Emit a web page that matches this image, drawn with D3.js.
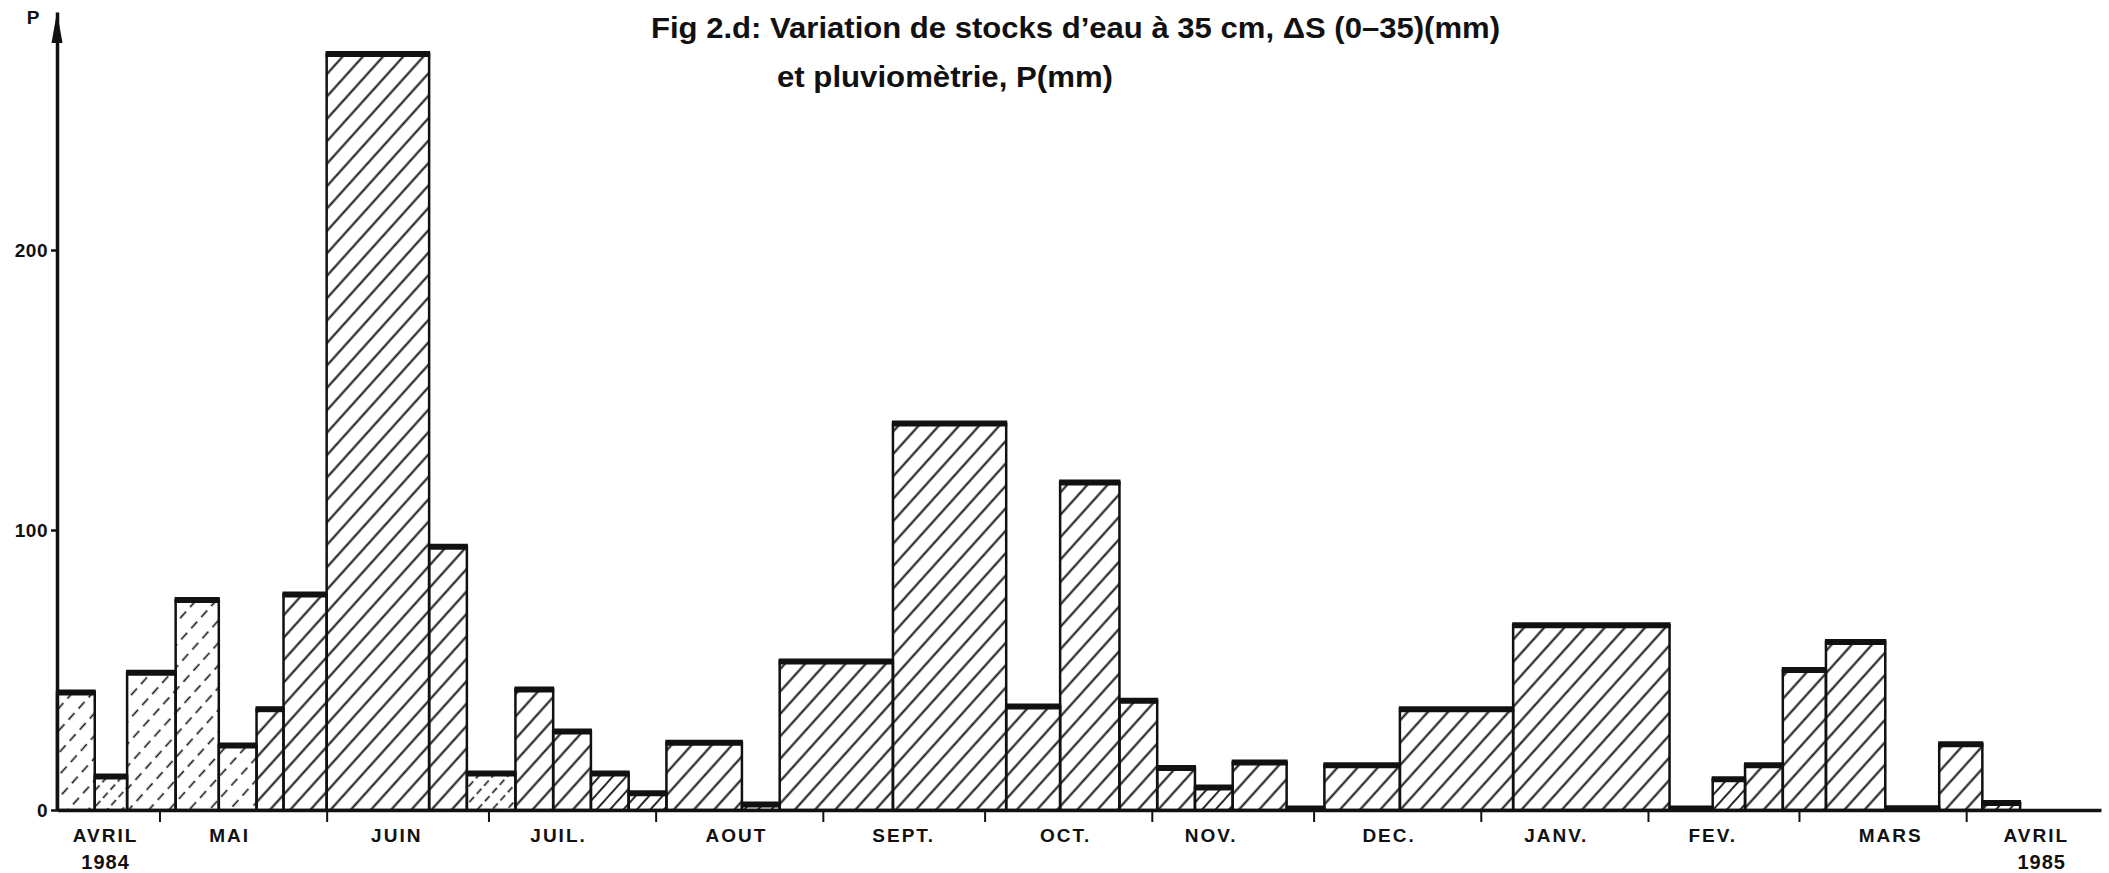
<!DOCTYPE html>
<html><head><meta charset="utf-8">
<script src="https://cdn.jsdelivr.net/npm/d3@7"></script>
<style>
html,body{margin:0;padding:0;background:#fff;}
svg{display:block;}
text{font-family:"Liberation Sans Narrow","Liberation Sans",Arial,sans-serif;font-weight:bold;fill:#111;}
</style></head><body>
<svg id="chart" width="2109" height="873"></svg>
<script>
// ---- data ----
// measurement dates (interval boundaries)
const measureDates = ["1984-04-12","1984-04-19","1984-04-25","1984-05-04","1984-05-12","1984-05-19","1984-05-24","1984-06-01","1984-06-20","1984-06-27","1984-07-06","1984-07-13","1984-07-20","1984-07-27","1984-08-03","1984-08-17","1984-08-24","1984-09-14","1984-10-05","1984-10-15","1984-10-26","1984-11-02","1984-11-09","1984-11-16","1984-11-26","1984-12-03","1984-12-17","1985-01-07","1985-02-05","1985-02-13","1985-02-19","1985-02-26","1985-03-06","1985-03-17","1985-03-27","1985-04-04","1985-04-11"];
// rainfall P (mm) over each interval
const rainfall = [42,12,49,75,23,36,77,270,94,13,43,28,13,6,24,2,53,138,37,117,39,15,8,17,0.5,16,36,66,0.5,11,16,50,60,0.6,23.5,2.5];
const axisStart = "1984-04-12", axisEnd = "1985-04-26";
const yTicks = [0,100,200];
const monthLabels = ["AVRIL","MAI","JUIN","JUIL.","AOUT","SEPT.","OCT.","NOV.","DEC.","JANV.","FEV.","MARS","AVRIL"];
const monthLabelDates = ["1984-04-21","1984-05-14","1984-06-14","1984-07-14","1984-08-16","1984-09-16","1984-10-16","1984-11-12","1984-12-15","1985-01-15","1985-02-13","1985-03-18","1985-04-14"];
const yearLabels = ["1984","1985"];
const yearLabelDates = ["1984-04-21","1985-04-15"];
const titleLine1 = "Fig  2.d: Variation de stocks  d\u2019eau à 35 cm, \u0394S (0\u201335)(mm)";
const titleLine2 = "et  pluviomètrie, P(mm)";
const yLabel = "P";

// ---- drawing ----
const parse = d3.utcParse("%Y-%m-%d");
const svg = d3.select("#chart");
const x = d3.scaleUtc().domain([parse(axisStart), parse(axisEnd)]).range([57, 2101]);
const y = d3.scaleLinear().domain([0, 285]).range([810, 12]);
const ink = "#111";

const defs = svg.append("defs");
function hatch(id, s, dash, w){
  const p = defs.append("pattern").attr("id", id).attr("patternUnits","userSpaceOnUse")
    .attr("width", s).attr("height", s).attr("patternTransform","rotate(42)");
  const l = p.append("line").attr("x1", s/2).attr("x2", s/2).attr("y1", -1).attr("y2", s+1)
    .attr("stroke", ink).attr("stroke-width", w);
  if (dash) l.attr("stroke-dasharray", dash);
}
hatch("h-wide", 15, null, 2);
hatch("h-fine", 10, null, 1.8);
hatch("h-dash", 15, "10 6", 1.6);
hatch("h-dash-fine", 11, "8 5", 1.6);
const dashedBars = new Set([0,1,2,3,4,9]);

const bars = rainfall.map((v,i)=>({x0:x(parse(measureDates[i])), x1:x(parse(measureDates[i+1])), v, i}));

const g = svg.append("g");
bars.forEach(b=>{
  const top = y(b.v), h = y(0)-top;
  const fine = h < 40;
  let pat = fine ? "h-fine" : "h-wide";
  if (dashedBars.has(b.i)) pat = fine ? "h-dash-fine" : "h-dash";
  g.append("rect").attr("x", b.x0).attr("y", top).attr("width", b.x1-b.x0).attr("height", h)
    .attr("fill", `url(#${pat})`).attr("stroke", ink).attr("stroke-width", 2.5);
  g.append("line").attr("x1", b.x0-1).attr("x2", b.x1+1).attr("y1", top).attr("y2", top)
    .attr("stroke", ink).attr("stroke-width", 6);
});

// x axis (baseline + month boundary ticks)
const monthStarts = d3.utcMonth.range(d3.utcMonth.ceil(parse(axisStart)), parse(axisEnd));
const xAxis = svg.append("g").attr("transform", `translate(0,${y(0)})`)
  .call(d3.axisBottom(x).tickValues(monthStarts).tickSize(12).tickSizeOuter(0).tickFormat(""));
xAxis.select(".domain").attr("stroke", ink).attr("stroke-width", 3.5);
xAxis.selectAll(".tick line").attr("stroke", ink).attr("stroke-width", 2);

// y axis
const yAxis = svg.append("g").attr("transform", `translate(57,0)`)
  .call(d3.axisLeft(y).tickValues(yTicks).tickSize(6).tickSizeOuter(0).tickPadding(3));
yAxis.select(".domain").attr("stroke", ink).attr("stroke-width", 3.5);
yAxis.selectAll(".tick line").attr("stroke", ink).attr("stroke-width", 2.5);
yAxis.selectAll(".tick text").attr("font-size", 19).attr("letter-spacing", 0.5)
  .attr("font-family", "'Liberation Sans',Arial,sans-serif").attr("font-weight","bold").attr("fill", ink);
// arrow head
svg.append("path").attr("d", `M57,${y(285)} L51.5,${y(285)+31} L62.5,${y(285)+31} Z`).attr("fill", ink);
svg.append("text").attr("x", 33).attr("y", 24).attr("text-anchor","middle")
  .attr("font-size", 19).attr("font-family","'Liberation Sans',Arial,sans-serif").text(yLabel);

// month labels
svg.append("g").selectAll("text").data(monthLabels).join("text")
  .attr("x", (d,i)=>x(parse(monthLabelDates[i]))).attr("y", 842).attr("text-anchor","middle")
  .attr("font-size", 19).attr("letter-spacing", 2)
  .attr("font-family","'Liberation Sans',Arial,sans-serif").text(d=>d);
svg.append("g").selectAll("text").data(yearLabels).join("text")
  .attr("x", (d,i)=>x(parse(yearLabelDates[i]))).attr("y", 869).attr("text-anchor","middle")
  .attr("font-size", 20).attr("letter-spacing", 1)
  .attr("font-family","'Liberation Sans',Arial,sans-serif").text(d=>d);

// title
svg.append("text").attr("x", 651).attr("y", 38).attr("font-size", 29)
  .attr("textLength", 849).attr("lengthAdjust","spacingAndGlyphs").text(titleLine1);
svg.append("text").attr("x", 777).attr("y", 87).attr("font-size", 29)
  .attr("textLength", 336).attr("lengthAdjust","spacingAndGlyphs").text(titleLine2);
</script>
</body></html>
